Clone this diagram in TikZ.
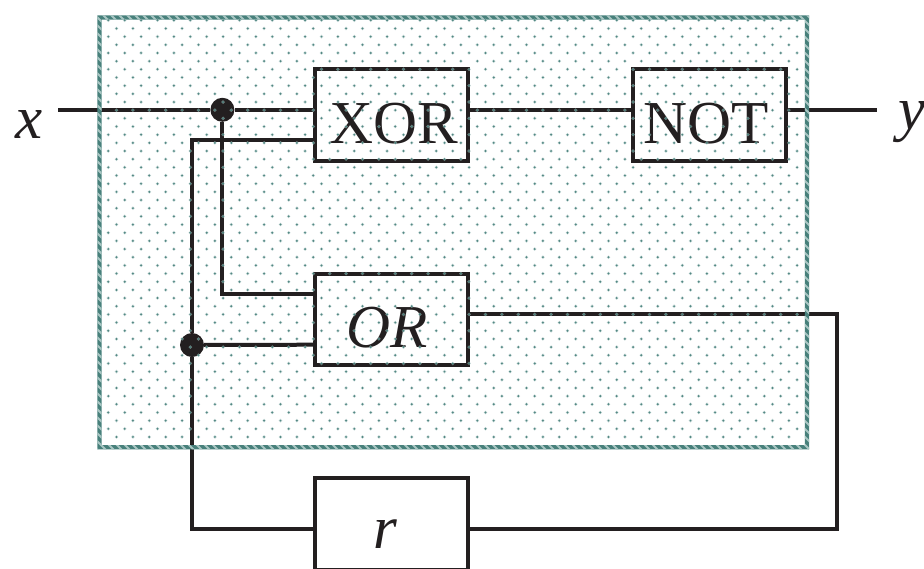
\documentclass[tikz,border=0pt]{standalone}
\usepackage{fontspec}
\usetikzlibrary{calc}
\setmainfont{Liberation Serif}
\definecolor{panelteal}{HTML}{47807B}
\definecolor{panellight}{HTML}{A9C6C3}
\definecolor{wire}{HTML}{231F20}
\tikzset{
  gate/.style={draw=wire,line width=4pt,rectangle,minimum width=153.3pt,minimum height=91.7pt,inner sep=0pt,outer sep=0pt},
  conn/.style={draw=wire,line width=4pt,line join=miter},
  junc/.style={circle,fill=wire,draw=none,minimum size=24pt,inner sep=0pt},
  roman/.style={text=wire,inner sep=0pt,anchor=base,font=\fontsize{61}{61}\selectfont},
  lab/.style={roman,font=\fontsize{61}{61}\selectfont\itshape}
}
\begin{document}
\begin{tikzpicture}[x=1pt,y=-1pt]
\useasboundingbox (0,0) rectangle (924,568);
\fill[white] (0,0) rectangle (924,568);
% gates
\node[gate] (xor) at (391.3,114.7) {};
\node[gate] (not) at (709.5,114.7) {};
\node[gate] (or) at (391.3,319.6) {};
\node[gate] (r) at (391.3,524.2) {};
% junctions and free ends
\node[junc] (j1) at (222.4,109.8) {};
\node[junc] (j2) at (192,345) {};
\coordinate (xin) at (58,109.8);
\coordinate (yout) at (877,109.8);
\coordinate (xorin) at (xor.west |- j1);
\coordinate (xorout) at (xor.east |- j1);
\coordinate (notin) at (not.west |- j1);
\coordinate (notout) at (not.east |- j1);
\coordinate (xorlow) at ($(xor.west)+(0,25.6)$);
\coordinate (orup) at ($(or.west)+(0,-25.9)$);
\coordinate (orlow) at ($(or.west)+(0,25.1)$);
\coordinate (orout) at ($(or.east)+(0,-5.4)$);
\coordinate (rin) at ($(r.west)+(0,4.3)$);
\coordinate (rout) at ($(r.east)+(0,4.3)$);
% connectors
\draw[conn] (xin) -- (j1);
\draw[conn] (j1) -- (xorin);
\draw[conn] (xorout) -- (notin);
\draw[conn] (notout) -- (yout);
\draw[conn] (j1) |- (orup);
\draw[conn] (xorlow) -| (j2);
\draw[conn] (j2) |- (rin);
\draw[conn] (j2) -- (orlow);
\draw[conn] (orout) -| (837,528.5) -- (rout);
% panel border, hatched
\begin{scope}[even odd rule]
  \clip (97.3,15.4) rectangle (809.1,449.4) (101.7,19.6) rectangle (804.9,445.2);
  \fill[panelteal] (90,10) rectangle (815,455);
  \foreach \c in {-480,-472,...,840}{
    \draw[panellight,line width=2pt] (\c,0) -- (\c+480,480);
  }
\end{scope}
% labels
\node[roman] (xort) at (393.5,143.4) {XOR};
\node[roman] (nott) at (706.4,143.4) {NOT};
\node[lab] (ort) at (387.5,347.7) {OR};
\node[lab] (rt) at (385,548) {r};
\node[lab] (xt) at (29,138.3) {x};
\node[lab,anchor=base west] (yt) at (898.5,129) {y};
% dot screen
\foreach \row in {0,...,51}{
  \pgfmathsetmacro{\yy}{20.3+8.17*\row}
  \pgfmathsetmacro{\xs}{mod(\row,2)==0 ? 108.3 : 116.5}
  \foreach \col in {0,...,42}{
    \pgfmathsetmacro{\xx}{\xs+16.4*\col}
    \ifdim\xx pt<804pt
      \fill[panellight,opacity=.55] (\xx,\yy) circle (1.9pt);
      \fill[panelteal,opacity=.9] (\xx,\yy) circle (1.1pt);
    \fi
  }
}
\end{tikzpicture}
\end{document}
